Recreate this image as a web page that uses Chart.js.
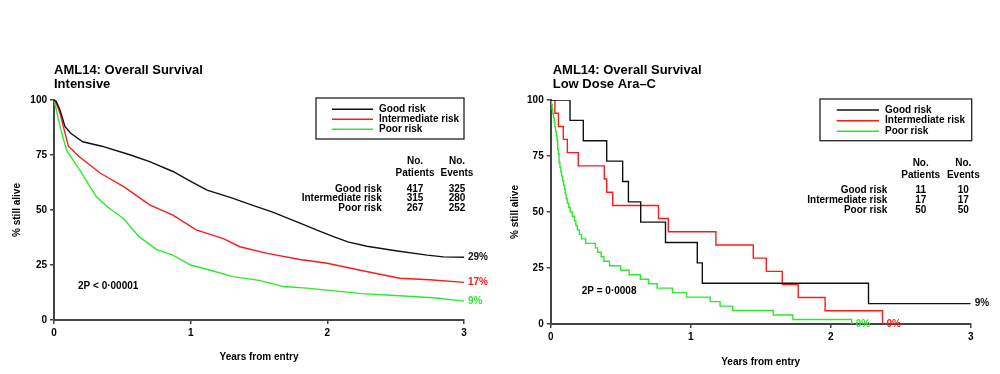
<!DOCTYPE html>
<html>
<head>
<meta charset="utf-8">
<script src="https://cdn.jsdelivr.net/npm/chart.js@4.4.0/dist/chart.umd.min.js"></script>
<style>
  body { margin: 0; background: #fff; width: 1000px; height: 374px; overflow: hidden; position: relative; }
  canvas { position: absolute; top: 0; }
  #chart-intensive { left: 0; }
  #chart-ldac { left: 500px; }
</style>
</head>
<body>
<canvas id="chart-intensive" width="500" height="374"></canvas>
<canvas id="chart-ldac" width="500" height="374"></canvas>
<script>
const riskGroups = ["Good risk", "Intermediate risk", "Poor risk"]
const riskColors = ["#111111", "#ff1a1a", "#2ee82e"]
const xTicks = [0, 1, 2, 3]
const yTicks = [0, 25, 50, 75, 100]

// Intensive arm - survival (%) against years from entry
const intGoodYears = [0, 0.015, 0.044, 0.08, 0.12, 0.21, 0.35, 0.56, 0.7, 0.87, 1.0, 1.12, 1.3, 1.46, 1.6, 1.8, 1.92, 2.04, 2.15, 2.29, 2.5, 2.73, 2.85, 3.0]
const intGoodSurv  = [100, 99.5, 95.5, 88, 85, 81, 79, 75, 72, 67.5, 63, 59, 55.5, 52, 49, 44, 41, 38, 35.5, 33.5, 31.5, 29.5, 28.7, 28.5]
const intInterYears = [0, 0.02, 0.044, 0.068, 0.105, 0.19, 0.34, 0.51, 0.7, 0.87, 1.04, 1.24, 1.36, 1.56, 1.8, 2.0, 2.25, 2.53, 2.75, 3.0]
const intInterSurv  = [100, 98, 94, 88, 79, 74, 66.7, 60.6, 52.3, 47.7, 41, 37, 33.3, 30.3, 27.5, 25.8, 22.5, 19, 18.3, 17.1]
const intPoorYears = [0, 0.015, 0.044, 0.07, 0.093, 0.19, 0.31, 0.4, 0.51, 0.62, 0.75, 0.87, 1.0, 1.15, 1.31, 1.5, 1.68, 1.85, 2.0, 2.25, 2.53, 2.8, 3.0]
const intPoorSurv  = [100, 96, 88, 82, 77, 68, 56, 51, 46, 38, 32, 29.5, 25, 22.5, 19.7, 18, 15.2, 14.5, 13.6, 12, 11, 10, 8.6]
const intPatients = [417, 315, 267]
const intEvents = [325, 280, 252]
const intEndLabels = ["29%", "17%", "9%"]

// Low dose Ara-C arm - Kaplan-Meier steps
const ldacGoodYears = [0, 0.138, 0.233, 0.4, 0.514, 0.555, 0.643, 0.82, 1.047, 1.083, 2.27, 3.0]
const ldacGoodSurv  = [100, 90.9, 81.8, 72.7, 63.6, 54.5, 45.5, 36.4, 27.3, 18.2, 9.1, 9.1]
const ldacInterYears = [0, 0.03, 0.055, 0.09, 0.119, 0.197, 0.383, 0.4, 0.443, 0.77, 0.84, 1.18, 1.447, 1.54, 1.654, 1.768, 1.96, 2.37]
const ldacInterSurv  = [100, 94.1, 88.2, 82.4, 76.5, 70.6, 64.7, 58.8, 52.9, 47.1, 41.2, 35.3, 29.4, 23.5, 17.6, 11.8, 5.9, 0]
const ldacPoorYears = [0, 0.005, 0.01, 0.015, 0.02, 0.025, 0.03, 0.035, 0.04, 0.045, 0.05, 0.055, 0.06, 0.066, 0.072, 0.078, 0.085, 0.092, 0.1, 0.104, 0.11, 0.118, 0.128, 0.14, 0.155, 0.17, 0.18, 0.19, 0.205, 0.22, 0.25, 0.32, 0.335, 0.36, 0.38, 0.42, 0.5, 0.56, 0.64, 0.7, 0.76, 0.87, 0.97, 1.14, 1.21, 1.3, 1.59, 1.73, 2.15]
const ldacPoorSurv  = [100, 98, 96, 94, 92, 90, 88, 86, 84, 82, 78, 76, 72, 70, 68, 66, 64, 62, 60, 58, 56, 54, 52, 50, 48, 46, 44, 42, 40, 38, 36, 34, 32, 30, 28, 26, 24, 22, 20, 18, 16, 14, 12, 10, 8, 6, 4, 2, 0]
const ldacPatients = [11, 17, 50]
const ldacEvents = [10, 17, 50]
const ldacEndLabels = ["9%", "0%", "0%"]

const FONT = "'Liberation Sans', Arial, sans-serif"
Chart.defaults.font.family = FONT
Chart.defaults.font.weight = 'bold'
Chart.defaults.color = '#000'

function toPoints(xs, ys) {
    return xs.map((x, i) => ({ x: x, y: ys[i] }))
}

// titles, legend box, numbers table, p value and end labels
function extrasPlugin(o) {
    return {
        id: 'extras',
        afterDraw(chart) {
            const ctx = chart.ctx
            ctx.save()
            ctx.fillStyle = '#000'
            ctx.font = 'bold 13px ' + FONT
            ctx.textAlign = 'left'
            ctx.textBaseline = 'alphabetic'
            ctx.fillText(o.title[0], o.titleX, 74)
            ctx.fillText(o.title[1], o.titleX, 88)

            // legend
            const lg = o.legend
            ctx.strokeStyle = '#222'
            ctx.lineWidth = 1.3
            ctx.strokeRect(lg.x, lg.y, lg.w, lg.h)
            ctx.font = 'bold 10px ' + FONT
            ctx.textBaseline = 'middle'
            riskGroups.forEach((g, i) => {
                const yy = lg.rows[i]
                ctx.strokeStyle = riskColors[i]
                ctx.lineWidth = 1.5
                ctx.beginPath()
                ctx.moveTo(lg.lx0, yy)
                ctx.lineTo(lg.lx1, yy)
                ctx.stroke()
                ctx.fillStyle = '#000'
                ctx.fillText(g, lg.tx, yy)
            })

            // table
            const tb = o.table
            ctx.textAlign = 'center'
            ctx.fillText('No.', tb.c1, tb.h1)
            ctx.fillText('Patients', tb.c1, tb.h2)
            ctx.fillText('No.', tb.c2, tb.h1)
            ctx.fillText('Events', tb.c2, tb.h2)
            riskGroups.forEach((g, i) => {
                ctx.textAlign = 'right'
                ctx.fillText(g, tb.labelX, tb.rows[i])
                ctx.textAlign = 'center'
                ctx.fillText(String(o.patients[i]), tb.c1, tb.rows[i])
                ctx.fillText(String(o.events[i]), tb.c2, tb.rows[i])
            })

            // p value
            ctx.textAlign = 'left'
            ctx.fillText(o.pText, o.pX, o.pY)

            // end of curve labels
            o.endLabels.forEach((lab, i) => {
                const pts = chart.getDatasetMeta(i).data
                const last = pts[pts.length - 1]
                ctx.fillStyle = riskColors[i]
                ctx.fillText(lab, last.x + 4, last.y)
            })
            ctx.restore()
        }
    }
}

function makeChart(id, series, stepped, o) {
    const datasets = series.map((s, i) => ({
        label: riskGroups[i],
        data: toPoints(s[0], s[1]),
        borderColor: riskColors[i],
        borderWidth: 1.4,
        pointRadius: 0,
        fill: false,
        tension: 0,
        stepped: stepped
    }))
    return new Chart(document.getElementById(id), {
        type: 'line',
        data: { datasets: datasets },
        options: {
            responsive: false,
            animation: false,
            layout: { padding: { top: 100, right: o.padRight, left: 0, bottom: 0 } },
            plugins: { legend: { display: false }, tooltip: { enabled: false } },
            scales: {
                x: {
                    type: 'linear', min: 0, max: 3,
                    afterFit: s => { s.height = o.xHeight },
                    afterBuildTicks: s => { s.ticks = xTicks.map(v => ({ value: v })) },
                    ticks: { font: { size: 10, weight: 'bold' }, padding: 3, maxRotation: 0 },
                    grid: { display: true, drawOnChartArea: false, drawTicks: true, tickLength: 4, color: '#444', lineWidth: 1.5 },
                    border: { display: true, color: '#444', width: 2 },
                    title: { display: true, text: 'Years from entry', font: { size: 10, weight: 'bold' }, padding: { top: 0, bottom: o.xTitlePad } }
                },
                y: {
                    min: 0, max: 100,
                    afterFit: s => { s.width = o.yWidth },
                    afterBuildTicks: s => { s.ticks = yTicks.map(v => ({ value: v })) },
                    ticks: { font: { size: 10, weight: 'bold' }, padding: 3 },
                    grid: { display: true, drawOnChartArea: false, drawTicks: true, tickLength: 4, color: '#444', lineWidth: 1.5 },
                    border: { display: true, color: '#444', width: 2 },
                    title: { display: true, text: '% still alive', font: { size: 10, weight: 'bold' }, padding: { top: o.yTitlePad, bottom: 0 } }
                }
            }
        },
        plugins: [extrasPlugin(o)]
    })
}

const intensiveChart = makeChart('chart-intensive',
    [[intGoodYears, intGoodSurv], [intInterYears, intInterSurv], [intPoorYears, intPoorSurv]],
    false,
    {
        padRight: 36, xHeight: 54, yWidth: 54, xTitlePad: 11, yTitlePad: 11,
        title: ['AML14: Overall Survival', 'Intensive'], titleX: 54,
        legend: { x: 316, y: 98, w: 148, h: 41, lx0: 332, lx1: 373, tx: 379, rows: [109.3, 119.3, 129.3] },
        table: { c1: 415, c2: 457, h1: 161.7, h2: 173.3, labelX: 381.7, rows: [189, 198.7, 208.7] },
        patients: intPatients, events: intEvents,
        pText: '2P < 0\u00b700001', pX: 78, pY: 286.7,
        endLabels: intEndLabels
    })

const ldacChart = makeChart('chart-ldac',
    [[ldacGoodYears, ldacGoodSurv], [ldacInterYears, ldacInterSurv], [ldacPoorYears, ldacPoorSurv]],
    true,
    {
        padRight: 29.3, xHeight: 50, yWidth: 50.7, xTitlePad: 6, yTitlePad: 9,
        title: ['AML14: Overall Survival', 'Low Dose Ara\u2013C'], titleX: 52.7,
        legend: { x: 320, y: 99, w: 151.7, h: 41.7, lx0: 336.7, lx1: 379, tx: 385, rows: [110, 120.7, 131.3] },
        table: { c1: 420.7, c2: 463.3, h1: 163.3, h2: 175, labelX: 387.3, rows: [190, 200, 210.7] },
        patients: ldacPatients, events: ldacEvents,
        pText: '2P = 0\u00b70008', pX: 81.7, pY: 291,
        endLabels: ldacEndLabels
    })
</script>
</body>
</html>
